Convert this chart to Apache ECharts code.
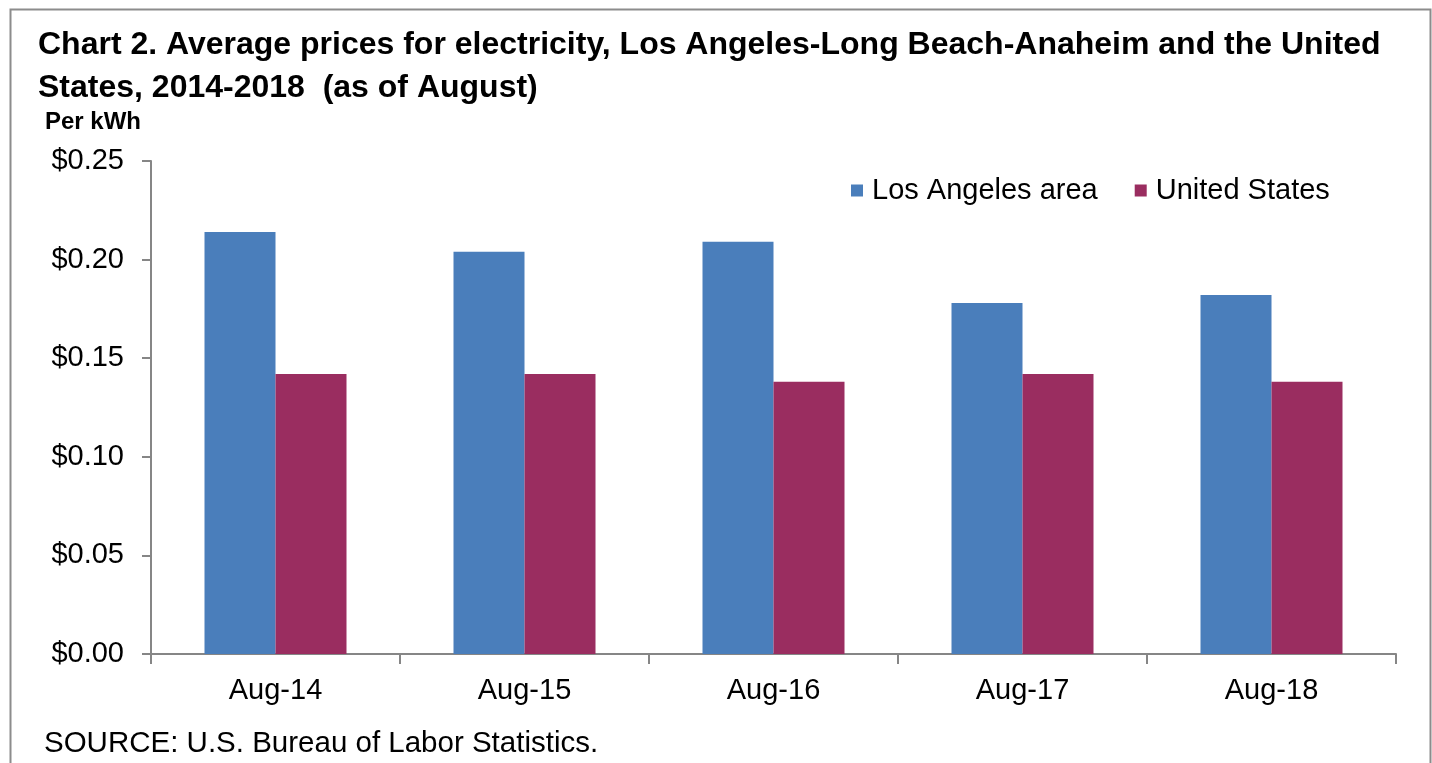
<!DOCTYPE html>
<html>
<head>
<meta charset="utf-8">
<script src="https://cdn.jsdelivr.net/npm/echarts@6/dist/echarts.min.js"></script>
<style>
html,body{margin:0;padding:0;background:#fff;}
#c{width:1432px;height:763px;}
</style>
</head>
<body>
<div id="c"></div>
<script>
const categories = ['Aug-14', 'Aug-15', 'Aug-16', 'Aug-17', 'Aug-18'];
const losAngeles = [0.214, 0.204, 0.209, 0.178, 0.182];
const unitedStates = [0.142, 0.142, 0.138, 0.142, 0.138];
const seriesNames = ['Los Angeles area', 'United States'];
const yTicks = { min: 0, max: 0.25, interval: 0.05 };
const titleText = 'Chart 2. Average prices for electricity, Los Angeles-Long Beach-Anaheim and the United\nStates, 2014-2018  (as of August)';
const unitText = 'Per kWh';
const sourceText = 'SOURCE: U.S. Bureau of Labor Statistics.';

const chart = echarts.init(document.getElementById('c'), null, { renderer: 'canvas' });
const bodyFont = '"Liberation Sans", Arial, sans-serif';
const titleFont = '"Liberation Sans", Arial, sans-serif';

chart.setOption({
  backgroundColor: '#ffffff',
  animation: false,
  title: {
    text: titleText,
    left: 38,
    top: 24,
    padding: 0,
    textStyle: {
      fontFamily: titleFont,
      fontWeight: 'bold',
      fontSize: 32,
      lineHeight: 43,
      color: '#000000'
    }
  },
  legend: {
    data: seriesNames,
    left: 851,
    top: 176,
    padding: 0,
    itemWidth: 12,
    itemHeight: 12,
    itemGap: 37,
    icon: 'rect',
    textStyle: {
      fontFamily: bodyFont,
      fontSize: 29,
      color: '#000000',
      padding: [0, 0, 0, 4]
    }
  },
  grid: {
    left: 151,
    right: 36,
    top: 161,
    bottom: 109,
    containLabel: false
  },
  xAxis: {
    type: 'category',
    data: categories,
    axisLine: { show: true, lineStyle: { color: '#868686', width: 2 } },
    axisTick: { show: true, length: 10, lineStyle: { color: '#868686', width: 2 } },
    axisLabel: {
      fontFamily: bodyFont,
      fontSize: 29,
      color: '#000000',
      margin: 22
    }
  },
  yAxis: {
    type: 'value',
    min: yTicks.min,
    max: yTicks.max,
    interval: yTicks.interval,
    splitLine: { show: false },
    axisLine: { show: true, lineStyle: { color: '#868686', width: 2 } },
    axisTick: { show: true, length: 9, lineStyle: { color: '#868686', width: 2 } },
    axisLabel: {
      fontFamily: bodyFont,
      fontSize: 29,
      color: '#000000',
      margin: 27,
      formatter: v => '$' + v.toFixed(2)
    }
  },
  series: [
    {
      name: seriesNames[0],
      type: 'bar',
      data: losAngeles,
      barWidth: 71,
      barGap: '0%',
      itemStyle: { color: '#4A7EBB' }
    },
    {
      name: seriesNames[1],
      type: 'bar',
      data: unitedStates,
      barWidth: 71,
      barGap: '0%',
      itemStyle: { color: '#9A2D60' }
    }
  ],
  graphic: [
    {
      type: 'rect',
      left: 8,
      top: 7,
      shape: { width: 1420, height: 770 },
      style: { fill: 'none', stroke: '#8c8c8c', lineWidth: 2 },
      silent: true,
      z: -1
    },
    {
      type: 'text',
      left: 45,
      top: 110,
      style: {
        text: unitText,
        font: 'bold 24px ' + titleFont,
        fill: '#000000'
      }
    },
    {
      type: 'text',
      left: 44,
      top: 729,
      style: {
        text: sourceText,
        font: '29.5px ' + bodyFont,
        fill: '#000000'
      }
    }
  ]
});
</script>
</body>
</html>
